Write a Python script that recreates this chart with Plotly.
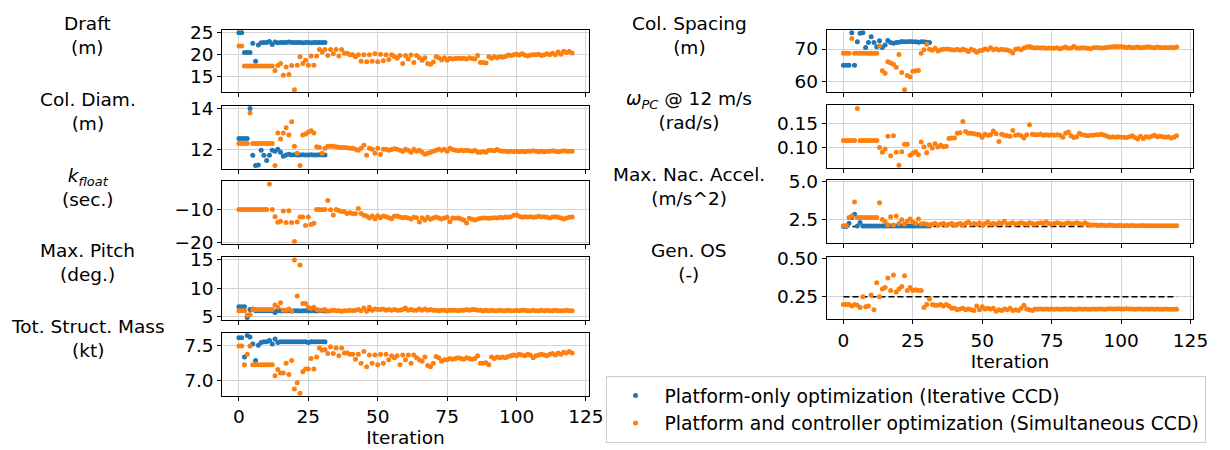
import plotly.graph_objects as go

# ---------------- data ----------------
ITER_O = list(range(121))
ITER_B = list(range(32))

DRAFT_O = [
    22.0, 22.0, 17.4, 17.4, 17.4, 17.4, 17.4, 17.4, 17.4, 17.4,
    17.4, 17.4, 17.4, 16.4, 17.5, 18.0, 15.3, 17.2, 15.5, 17.5,
    12.0, 17.6, 19.5, 18.0, 18.7, 17.6, 19.7, 17.6, 19.7, 21.2,
    20.6, 21.2, 19.8, 21.2, 20.2, 21.2, 19.7, 21.2, 20.3, 20.3,
    20.0, 20.0, 19.5, 20.0, 18.5, 20.0, 18.4, 20.0, 18.5, 20.2,
    18.4, 20.1, 18.6, 20.0, 18.9, 20.0, 19.6, 19.2, 19.8, 18.0,
    19.8, 19.0, 19.9, 18.2, 19.8, 19.3, 18.7, 19.3, 18.0, 17.8,
    18.3, 19.5, 19.3, 18.8, 19.3, 18.7, 19.2, 19.0, 19.1, 19.2,
    19.1, 19.2, 19.0, 19.3, 19.1, 19.0, 19.8, 18.2, 18.2, 18.1,
    19.5, 19.2, 19.5, 19.3, 19.5, 19.4, 19.6, 19.9, 19.8, 20.0,
    20.1, 19.9, 20.2, 19.9, 19.7, 19.9, 20.0, 20.0, 20.1, 19.8,
    20.0, 20.2, 20.0, 20.3, 20.0, 20.6, 20.1, 20.8, 20.5, 20.7,
    20.4]
DRAFT_B = [
    25.0, 25.0, 20.5, 20.5, 20.5, 22.6, 18.5, 22.2, 22.7, 22.8,
    22.8, 23.0, 22.3, 22.9, 22.7, 22.8, 22.8, 22.8, 22.9, 22.8,
    22.8, 22.8, 22.8, 22.7, 22.8, 22.8, 22.7, 22.8, 22.8, 22.8,
    22.8, 22.8]

DIAM_O = [
    12.28, 12.28, 12.28, 12.28, 13.78, 12.28, 12.28, 12.28, 12.28, 12.28,
    12.28, 12.28, 12.28, 11.2, 12.8, 12.5, 12.8, 13.05, 12.7, 13.35,
    12.15, 11.8, 11.2, 12.7, 12.75, 12.85, 12.9, 12.8, 12.12, 12.1,
    11.8, 12.05, 12.15, 12.15, 12.15, 12.12, 12.1, 12.08, 12.08, 12.07,
    12.05, 12.05, 12.0, 11.95, 12.05, 12.2, 11.7, 12.05, 12.0, 11.8,
    12.05, 11.75, 12.0, 12.0, 11.95, 11.98, 12.02, 12.0, 11.95, 11.9,
    12.0, 11.95, 11.85, 12.0, 11.9, 11.95, 11.85, 11.75, 11.8, 11.85,
    11.9, 11.95, 12.0, 11.95, 12.0, 11.9, 12.05, 11.98, 11.95, 11.92,
    11.95, 11.93, 11.95, 11.92, 11.9, 11.95, 11.85, 11.85, 11.88, 11.85,
    11.95, 11.95, 11.92, 11.98, 11.92, 11.9, 11.9, 11.88, 11.9, 11.88,
    11.9, 11.87, 11.9, 11.88, 11.9, 11.9, 11.92, 11.9, 11.88, 11.9,
    11.87, 11.9, 11.9, 11.92, 11.9, 11.88, 11.9, 11.92, 11.9, 11.9,
    11.9]
DIAM_B = [
    12.52, 12.52, 12.52, 12.52, 14.0, 11.7, 11.2, 11.22, 11.95, 11.7,
    11.45, 11.7, 11.95, 11.9, 12.0, 11.85, 11.65, 11.72, 11.75, 11.72,
    11.73, 11.72, 11.72, 11.73, 11.72, 11.72, 11.73, 11.72, 11.72, 11.73,
    11.72, 11.72]

KFLOAT_O = [
    -10.0, -10.0, -10.0, -10.0, -10.0, -10.0, -10.0, -10.0, -10.0, -10.0,
    -10.0, -2.3, -10.0, -12.2, -13.9, -13.6, -10.5, -14.0, -10.4, -14.0,
    -19.7, -13.8, -12.3, -12.3, -14.9, -12.3, -14.6, -14.2, -10.0, -10.0,
    -10.1, -10.0, -7.3, -10.1, -11.7, -10.0, -10.3, -10.6, -10.7, -11.2,
    -11.0, -11.3, -11.2, -9.7, -11.2, -11.8, -12.0, -12.6, -12.0, -12.8,
    -11.9, -12.5, -12.0, -12.2, -12.5, -12.8, -12.1, -12.0, -12.3, -12.5,
    -12.4, -12.6, -12.9, -12.4, -12.5, -13.8, -12.5, -13.2, -12.4, -13.0,
    -12.6, -12.3, -12.6, -12.9, -12.6, -12.4, -13.7, -12.6, -12.7, -12.6,
    -12.9, -13.2, -14.1, -12.7, -13.0, -13.2, -12.9, -12.7, -12.6, -12.6,
    -12.7, -12.6, -12.5, -12.6, -12.4, -12.5, -12.3, -12.4, -12.2, -11.8,
    -11.6, -12.1, -12.4, -12.2, -12.3, -12.2, -12.4, -12.3, -12.1, -12.3,
    -12.2, -12.4, -12.6, -12.3, -12.2, -12.4, -12.6, -12.9, -12.6, -12.4,
    -12.3]

PITCH_O = [
    6.0, 6.0, 6.0, 5.2, 5.35, 6.2, 6.2, 6.2, 6.2, 6.2,
    6.2, 6.2, 6.2, 7.0, 6.6, 7.4, 6.1, 6.1, 6.3, 5.9,
    15.0, 8.6, 14.1, 7.3, 7.3, 6.6, 6.4, 6.6, 6.2, 6.1,
    6.1, 6.2, 5.9, 6.0, 6.1, 6.0, 6.0, 5.9, 6.0, 6.0,
    6.1, 6.0, 6.1, 6.2, 6.0, 6.5, 5.9, 6.6, 6.1, 6.3,
    6.2, 6.2, 6.3, 6.1, 6.2, 6.1, 6.2, 6.1, 6.1, 6.2,
    6.5, 6.1, 6.2, 6.1, 6.1, 6.3, 6.1, 6.3, 6.1, 6.2,
    6.1, 6.1, 6.0, 6.1, 6.1, 6.0, 6.1, 6.1, 6.1, 6.0,
    6.1, 6.1, 6.2, 6.1, 6.2, 6.2, 6.1, 6.1, 6.0, 6.1,
    6.0, 6.1, 6.0, 6.0, 6.1, 6.0, 6.0, 6.1, 6.0, 6.0,
    6.1, 6.0, 6.1, 6.1, 6.0, 6.0, 6.1, 6.0, 6.0, 6.1,
    6.0, 6.1, 6.0, 6.0, 6.1, 6.0, 6.0, 6.0, 6.1, 6.0,
    6.0]
PITCH_B = [
    6.7, 6.7, 6.7, 4.8, 6.2, 6.3, 6.0, 6.0, 6.0, 6.0,
    6.0, 6.0, 6.0, 5.7, 6.0, 6.0, 5.95, 6.0, 6.0, 5.95,
    6.0, 6.0, 5.95, 6.0, 6.0, 5.95, 6.0, 6.0, 5.95, 6.0,
    6.0, 5.95]

MASS_O = [
    7.50, 7.50, 7.23, 7.38, 7.50, 7.23, 7.23, 7.23, 7.23, 7.23,
    7.23, 7.23, 7.23, 7.07, 7.16, 7.11, 7.11, 7.25, 7.09, 7.29,
    6.88, 6.97, 6.82, 7.13, 7.17, 7.17, 7.32, 7.17, 7.34, 7.47,
    7.44, 7.45, 7.39, 7.49, 7.39, 7.47, 7.36, 7.47, 7.40, 7.40,
    7.38, 7.38, 7.31, 7.38, 7.25, 7.42, 7.20, 7.37, 7.25, 7.37,
    7.23, 7.38, 7.25, 7.38, 7.30, 7.36, 7.33, 7.36, 7.23, 7.37,
    7.30, 7.37, 7.25, 7.37, 7.33, 7.30, 7.28, 7.34, 7.22, 7.20,
    7.25, 7.35, 7.33, 7.28, 7.30, 7.30, 7.32, 7.31, 7.32, 7.33,
    7.32, 7.31, 7.33, 7.32, 7.31, 7.32, 7.36, 7.25, 7.25, 7.26,
    7.23, 7.34, 7.32, 7.34, 7.33, 7.34, 7.33, 7.35, 7.36, 7.37,
    7.36, 7.38, 7.37, 7.36, 7.38, 7.37, 7.33, 7.36, 7.37, 7.38,
    7.37, 7.36, 7.38, 7.39, 7.37, 7.40, 7.38, 7.41, 7.40, 7.42,
    7.40]
MASS_B = [
    7.62, 7.62, 7.34, 7.65, 7.63, 7.53, 7.29, 7.51, 7.55, 7.56,
    7.56, 7.58, 7.53, 7.60, 7.55, 7.56, 7.56, 7.56, 7.56, 7.56,
    7.56, 7.56, 7.56, 7.56, 7.56, 7.55, 7.56, 7.56, 7.56, 7.56,
    7.56, 7.56]

SPACING_O = [
    68.7, 68.7, 68.7, 73.2, 68.7, 68.7, 68.7, 68.7, 68.7, 68.7,
    68.7, 68.7, 68.7, 71.0, 63.3, 62.6, 66.1, 65.7, 65.3, 64.4,
    68.3, 62.8, 57.5, 61.9, 61.5, 63.2, 63.3, 63.4, 68.7, 69.8,
    71.5, 69.9, 69.6, 70.2, 69.4, 69.8, 69.9, 70.0, 69.9, 69.8,
    69.7, 69.9, 69.6, 69.9, 69.7, 69.2, 69.9, 69.6, 69.0, 69.5,
    69.6, 70.0, 69.8, 70.4, 69.8, 70.0, 69.7, 69.9, 69.8, 69.7,
    69.4, 68.8, 69.9, 70.1, 69.8, 70.3, 70.6, 70.8, 70.5, 70.3,
    70.4, 70.3, 70.4, 70.2, 70.3, 70.2, 70.2, 70.4, 70.1, 70.3,
    70.6, 70.2, 70.3, 70.8, 70.3, 70.2, 70.4, 70.3, 70.2, 70.1,
    70.4, 70.5, 70.4, 70.3, 70.4, 70.5, 70.6, 70.7, 70.8, 70.7,
    70.8, 70.6, 70.5, 70.6, 70.4, 70.5, 70.6, 70.4, 70.5, 70.6,
    70.7, 70.5, 70.4, 70.6, 70.5, 70.4, 70.5, 70.4, 70.5, 70.4,
    70.6]
SPACING_B = [
    65.0, 65.0, 65.0, 75.0, 65.0, 72.2, 74.8, 75.0, 70.5, 72.0,
    73.8, 72.0, 70.7, 72.5, 70.5, 71.2, 72.6, 72.0, 71.8, 72.0,
    72.1, 72.3, 72.2, 72.2, 72.3, 72.2, 72.2, 72.1, 72.2, 72.2,
    72.1, 72.0]

OMEGA_O = [
    0.115, 0.115, 0.115, 0.115, 0.115, 0.182, 0.115, 0.115, 0.115, 0.115,
    0.115, 0.115, 0.115, 0.100, 0.090, 0.097, 0.124, 0.083, 0.125, 0.090,
    0.063, 0.091, 0.107, 0.107, 0.084, 0.088, 0.091, 0.085, 0.112, 0.101,
    0.089, 0.106, 0.099, 0.108, 0.101, 0.105, 0.102, 0.103, 0.119, 0.120,
    0.120, 0.130, 0.131, 0.155, 0.134, 0.130, 0.130, 0.129, 0.128, 0.127,
    0.122, 0.128, 0.126, 0.127, 0.135, 0.129, 0.113, 0.128, 0.126, 0.125,
    0.124, 0.136, 0.126, 0.127, 0.125, 0.120, 0.127, 0.148, 0.128, 0.127,
    0.127, 0.128, 0.126, 0.127, 0.126, 0.127, 0.126, 0.127, 0.126, 0.122,
    0.130, 0.133, 0.125, 0.121, 0.123, 0.130, 0.127, 0.126, 0.125, 0.126,
    0.126, 0.127, 0.127, 0.128, 0.126, 0.124, 0.122, 0.123, 0.122, 0.123,
    0.122, 0.122, 0.121, 0.123, 0.125, 0.121, 0.118, 0.124, 0.119, 0.123,
    0.122, 0.124, 0.126, 0.123, 0.124, 0.123, 0.122, 0.123, 0.120, 0.122,
    0.125]

NAC_O = [
    2.05, 2.05, 2.6, 2.7, 3.65, 2.6, 2.6, 2.6, 2.6, 2.6,
    2.6, 2.6, 2.6, 3.6, 2.48, 2.33, 2.1, 2.65, 2.1, 2.7,
    2.2, 2.45, 2.18, 2.35, 2.5, 2.3, 2.2, 2.5, 2.18, 2.2,
    2.15, 2.1, 2.15, 2.2, 2.1, 2.15, 2.2, 2.1, 2.15, 2.2,
    2.1, 2.15, 2.2, 2.1, 2.2, 2.3, 2.15, 2.2, 2.15, 2.25,
    2.1, 2.2, 2.3, 2.15, 2.2, 2.15, 2.25, 2.2, 2.35, 2.15,
    2.2, 2.25, 2.15, 2.2, 2.25, 2.2, 2.15, 2.25, 2.2, 2.15,
    2.2, 2.25, 2.2, 2.3, 2.2, 2.15, 2.2, 2.25, 2.2, 2.15,
    2.2, 2.25, 2.2, 2.2, 2.25, 2.2, 2.15, 2.25, 2.15, 2.1,
    2.1, 2.1, 2.08, 2.1, 2.08, 2.08, 2.1, 2.08, 2.06, 2.08,
    2.08, 2.06, 2.08, 2.06, 2.08, 2.06, 2.05, 2.06, 2.08, 2.06,
    2.05, 2.06, 2.05, 2.06, 2.05, 2.05, 2.06, 2.05, 2.05, 2.06,
    2.05]
NAC_B = [
    2.0, 2.0, 2.22, 2.6, 2.82, 2.03, 2.28, 2.03, 2.03, 2.03,
    2.03, 2.03, 2.03, 2.03, 2.03, 2.03, 2.03, 2.03, 2.03, 2.03,
    2.03, 2.03, 2.03, 2.03, 2.03, 2.03, 2.03, 2.03, 2.03, 2.03,
    2.03, 2.03]

GENOS_O = [
    0.200, 0.200, 0.200, 0.190, 0.200, 0.195, 0.180, 0.250, 0.185, 0.190,
    0.260, 0.165, 0.340, 0.250, 0.300, 0.310, 0.370, 0.290, 0.390, 0.280,
    0.300, 0.315, 0.385, 0.290, 0.310, 0.290, 0.295, 0.290, 0.290, 0.180,
    0.200, 0.235, 0.200, 0.195, 0.195, 0.200, 0.190, 0.200, 0.190, 0.175,
    0.175, 0.165, 0.170, 0.175, 0.165, 0.170, 0.165, 0.160, 0.190, 0.165,
    0.185, 0.170, 0.175, 0.170, 0.175, 0.155, 0.165, 0.160, 0.170, 0.165,
    0.175, 0.160, 0.165, 0.160, 0.175, 0.195, 0.170, 0.165, 0.160, 0.170,
    0.168, 0.170, 0.168, 0.170, 0.169, 0.170, 0.168, 0.170, 0.168, 0.169,
    0.170, 0.168, 0.170, 0.167, 0.169, 0.170, 0.168, 0.170, 0.169, 0.168,
    0.170, 0.169, 0.170, 0.170, 0.169, 0.170, 0.171, 0.170, 0.170, 0.171,
    0.170, 0.170, 0.171, 0.170, 0.170, 0.169, 0.170, 0.170, 0.169, 0.170,
    0.169, 0.170, 0.169, 0.170, 0.169, 0.169, 0.170, 0.169, 0.168, 0.169,
    0.168]

NAC_LIMIT = 2.0
GENOS_LIMIT = 0.25
PITCH_LIMIT = 6.1

X_TICKS = [0, 25, 50, 75, 100, 125]
LEGEND_NAMES = ["Platform-only optimization (Iterative CCD)",
                "Platform and controller optimization (Simultaneous CCD)"]

# ---------------- layout helpers ----------------
W, H = 1230, 450
BLUE, ORANGE = "#1f77b4", "#ff7f0e"
FONT = "DejaVu Sans"
FS = 18.5


def xd(a, b):
    return [a / W, b / W]


def yd(top, bot):
    return [1 - bot / H, 1 - top / H]


LEFT_X = (225, 596)
RIGHT_X = (837, 1208)
LEFT_ROWS = [(21, 86), (100, 166), (179, 244), (258, 324), (337, 403)]
RIGHT_ROWS = [(21, 86), (99, 165), (178, 243), (258, 323)]

panels = [
    # label, orange, blue, limit, yrange, yticks, fmt, col, row
    ("Draft<br>(m)", DRAFT_O, DRAFT_B, None, [11.4, 25.6], [15, 20, 25], "d", 0, 0),
    ("Col. Diam.<br>(m)", DIAM_O, DIAM_B, None, [11.03, 14.13], [12, 14], "d", 0, 1),
    ("<i>k<sub>float</sub></i><br>(sec.)", KFLOAT_O, None, None, [-20.4, -1.5], [-20, -10], "d", 0, 2),
    ("Max. Pitch<br>(deg.)", PITCH_O, PITCH_B, PITCH_LIMIT, [4.3, 15.5], [5, 10, 15], "d", 0, 3),
    ("Tot. Struct. Mass<br>(kt)", MASS_O, MASS_B, None, [6.78, 7.69], [7.0, 7.5], ".1f", 0, 4),
    ("Col. Spacing<br>(m)", SPACING_O, SPACING_B, None, [56.7, 75.8], [60, 70], "d", 1, 0),
    ("<i>ω<sub>PC</sub></i> @ 12 m/s<br>(rad/s)", OMEGA_O, None, None, [0.057, 0.19], [0.10, 0.15], ".2f", 1, 1),
    ("Max. Nac. Accel.<br>(m/s^2)", NAC_O, NAC_B, NAC_LIMIT, [0.92, 5.08], [2.5, 5.0], ".1f", 1, 2),
    ("Gen. OS<br>(-)", GENOS_O, None, GENOS_LIMIT, [0.103, 0.506], [0.25, 0.50], ".2f", 1, 3),
]

fig = go.Figure()
annotations = []
legend_shown = {"b": False, "o": False}

for i, (label, yo, yb, lim, yr, yt, fmt, col, row) in enumerate(panels, start=1):
    xa = "x" if i == 1 else f"x{i}"
    ya = "y" if i == 1 else f"y{i}"
    xcol = LEFT_X if col == 0 else RIGHT_X
    rows = LEFT_ROWS if col == 0 else RIGHT_ROWS
    top, bot = rows[row]
    is_bottom = (col == 0 and row == 4) or (col == 1 and row == 3)

    if lim is not None:
        fig.add_trace(go.Scatter(x=[0, 120], y=[lim, lim], mode="lines",
                                 line=dict(color="black", width=1.5, dash="6px,3px"),
                                 showlegend=False, hoverinfo="skip", xaxis=xa, yaxis=ya))
    if yb is not None:
        fig.add_trace(go.Scatter(x=ITER_B, y=yb, mode="markers",
                                 marker=dict(color=BLUE, size=5),
                                 name=LEGEND_NAMES[0], legendgroup="b",
                                 showlegend=not legend_shown["b"], xaxis=xa, yaxis=ya))
        legend_shown["b"] = True
    fig.add_trace(go.Scatter(x=ITER_O, y=yo, mode="markers",
                             marker=dict(color=ORANGE, size=5),
                             name=LEGEND_NAMES[1], legendgroup="o",
                             showlegend=not legend_shown["o"], xaxis=xa, yaxis=ya))
    legend_shown["o"] = True

    axis_common = dict(showgrid=True, gridcolor="#d3d3d3", gridwidth=1,
                       showline=True, mirror=True, linecolor="black", linewidth=1,
                       ticks="outside", ticklen=4, tickcolor="black", tickwidth=1,
                       zeroline=False, tickfont=dict(family=FONT, size=FS, color="black"))
    xkw = dict(axis_common, domain=xd(*xcol), anchor=ya, range=[-6, 126],
               tickvals=X_TICKS, showticklabels=is_bottom)
    if is_bottom:
        xkw["title"] = dict(text="Iteration", font=dict(family=FONT, size=FS, color="black"),
                            standoff=0)
    ytext = [(format(v, fmt) if fmt != "d" else str(int(v))).replace("-", "\u2212") for v in yt]
    ykw = dict(axis_common, domain=yd(top, bot), anchor=xa, range=yr,
               tickvals=yt, ticktext=ytext)
    fig.update_layout(**{("xaxis" if i == 1 else f"xaxis{i}"): xkw,
                         ("yaxis" if i == 1 else f"yaxis{i}"): ykw})

    lx = 89 if col == 0 else 698
    annotations.append(dict(text=label, x=lx / W, y=1 - (top + 6) / H,
                            xref="paper", yref="paper", xanchor="center", yanchor="middle",
                            showarrow=False, align="center",
                            font=dict(family=FONT, size=FS, color="black")))

fig.update_layout(
    width=W, height=H, autosize=False,
    margin=dict(l=0, r=0, t=0, b=0),
    paper_bgcolor="white", plot_bgcolor="white",
    font=dict(family=FONT, size=FS, color="black"),
    annotations=annotations,
    showlegend=True,
    legend=dict(x=613 / W, y=1 - 382 / H, xanchor="left", yanchor="top",
                bgcolor="white", bordercolor="#cccccc", borderwidth=1,
                font=dict(family=FONT, size=18.8, color="black"),
                tracegroupgap=0, itemwidth=48),
)

fig.write_html("out.html")
